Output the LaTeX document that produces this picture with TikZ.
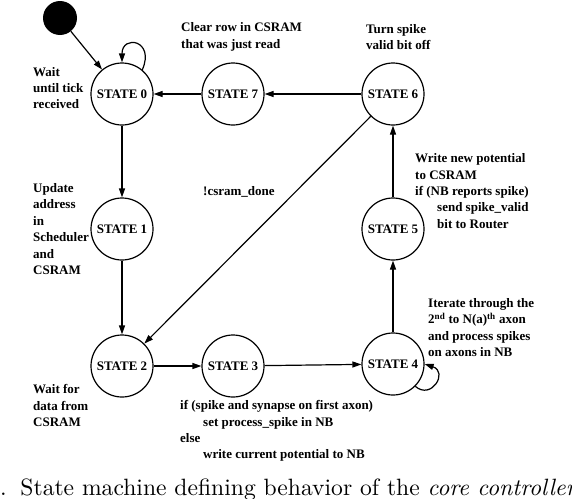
\documentclass[tikz,border=0pt]{standalone}
\usepackage{fontspec}
\usepackage{graphicx}
\newfontfamily\labfont{Liberation Serif}
\usetikzlibrary{arrows.meta}
\begin{document}
\begin{tikzpicture}[x=1pt,y=-1pt,
 st/.style={circle,draw,line width=1.2pt,minimum size=62pt,inner sep=0pt,font=\labfont\bfseries\fontsize{13}{16}\selectfont},
 lab/.style={anchor=west,inner sep=0pt,align=left,font=\labfont\bfseries\fontsize{13}{16.4}\selectfont},
 arr/.style={line width=1.2pt,-{Triangle[length=9pt,width=6pt]}},
 captext/.style={anchor=base west,inner sep=0pt,font=\fontsize{10}{12}\selectfont}]
\useasboundingbox (0,0) rectangle (572,498);
% states
\node[circle,fill=black,minimum size=34pt,inner sep=0pt] (init) at (60,18) {};
\node[st] (s0) at (122,94) {STATE 0};
\node[st] (s7) at (233,94) {STATE 7};
\node[st] (s6) at (393,94) {STATE 6};
\node[st] (s1) at (122,229) {STATE 1};
\node[st] (s5) at (393,229) {STATE 5};
\node[st] (s2) at (122,366) {STATE 2};
\node[st] (s3) at (233,366) {STATE 3};
\node[st] (s4) at (393,364) {STATE 4};
% connectors
\draw[arr] (init) -- (s0);
\draw[arr] (s0) -- (s1);
\draw[arr] (s1) -- (s2);
\draw[arr] (s2) -- (s3);
\draw[arr] (s3) -- (s4);
\draw[arr] (s4) -- (s5);
\draw[arr] (s5) -- (s6);
\draw[arr] (s6) -- (s7);
\draw[arr] (s7) -- (s0);
\draw[arr] (s6) -- (s2);
\draw[arr] (s0.50) .. controls +(13,-30) and +(0,-28) .. (s0.90);
\draw[arr] (s4.-45) .. controls +(16,14) and +(24,8) .. (s4.0);
% labels
\node[lab] (l0) at (33,88) {Wait\\until tick\\received};
\node[lab] (l7) at (181,37) {Clear row in CSRAM\\that was just read};
\node[lab] (l6) at (366,37) {Turn spike\\valid bit off};
\node[lab] (lc) at (203,192) {!csram\_done};
\node[lab] (l1) at (33,229) {Update\\address\\in\\Scheduler\\and\\CSRAM};
\node[lab] (l5) at (415,191) {Write new potential\\to CSRAM\\if (NB reports spike)\\\hspace*{22pt}send spike\_valid\\\hspace*{22pt}bit to Router};
\node[lab] (l4) at (428,327.5) {Iterate through the\\2\textsuperscript{nd} to N(a)\textsuperscript{th} axon\\and process spikes\\on axons in NB};
\node[lab] (l2) at (33,405.5) {Wait for\\data from\\CSRAM};
\node[lab] (l3) at (180,431) {if (spike and synapse on first axon)\\\hspace*{23pt}set process\_spike in NB\\else\\\hspace*{23pt}write current potential to NB};
% caption
\node[captext] (caption) at (0,495) {\scalebox{2.36}{.\hspace{5.8pt}State machine defining behavior of the \textit{core controller}}};
\end{tikzpicture}
\end{document}
